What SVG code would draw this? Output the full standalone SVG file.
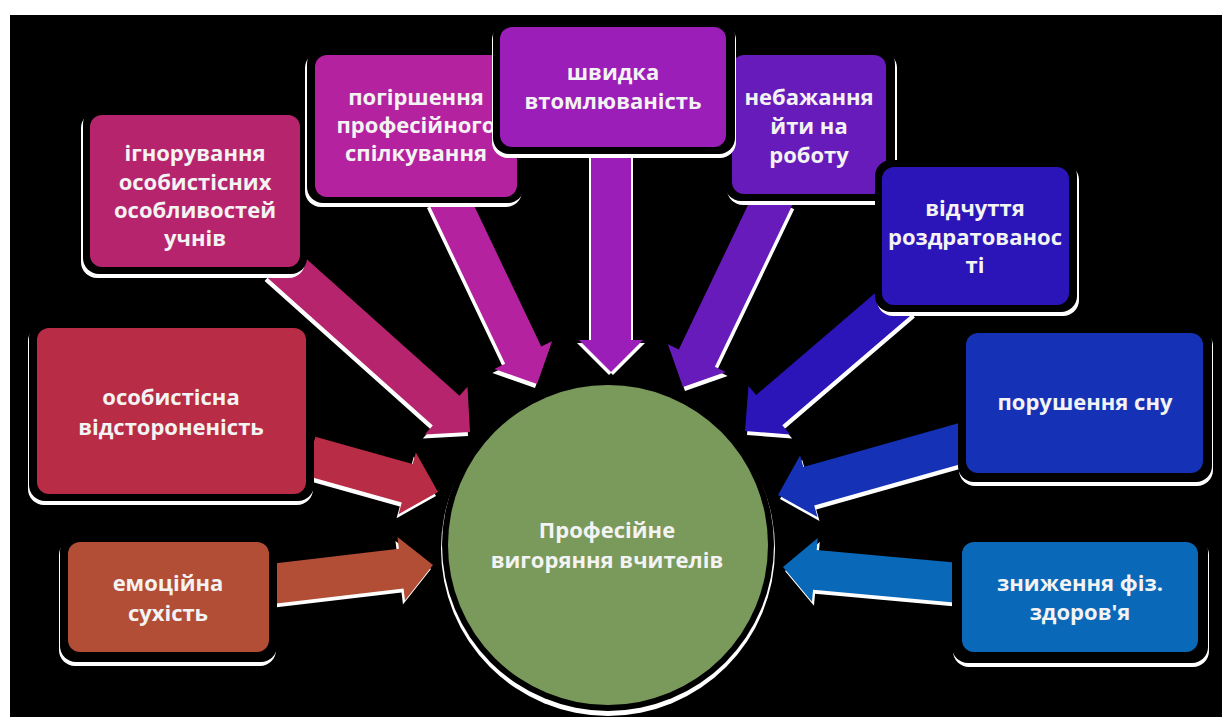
<svg xmlns="http://www.w3.org/2000/svg" xmlns:xlink="http://www.w3.org/1999/xlink" width="1225" height="723" viewBox="0 0 1225 723">
<style>
.t{font-family:"Open Sans","Noto Sans","DejaVu Sans",sans-serif;font-weight:700;font-size:22px;fill:#F3F3F3;text-anchor:middle}
.bo{fill:#000}
.sh{fill:#FFFFFF}
</style>
<defs>
<polygon id="p1" points="-255,-20 -32,-20 -32,-32 0,0 -32,32 -32,20 -255,20" transform="translate(470,432) rotate(41.8)"/>
<polygon id="p2" points="-209,-20 -32,-20 -32,-32 0,0 -32,32 -32,20 -209,20" transform="translate(537,384) rotate(64.5)"/>
<polygon id="p3" points="-227,-20 -32,-20 -32,-32 0,0 -32,32 -32,20 -227,20" transform="translate(611,372) rotate(90)"/>
<polygon id="p4" points="-211,-20 -32,-20 -32,-32 0,0 -32,32 -32,20 -211,20" transform="translate(683,387) rotate(115.6)"/>
<polygon id="p5" points="-204,-20 -32,-20 -32,-32 0,0 -32,32 -32,20 -204,20" transform="translate(745,431) rotate(139.4)"/>
<polygon id="p6" points="-194,-20 -32,-20 -32,-32 0,0 -32,32 -32,20 -194,20" transform="translate(778,495) rotate(164.2)"/>
<polygon id="p7" points="-176,-20 -32,-20 -32,-32 0,0 -32,32 -32,20 -176,20" transform="translate(783,567) rotate(185.2)"/>
<polygon id="p8" points="-133,-20 -32,-20 -32,-32 0,0 -32,32 -32,20 -133,20" transform="translate(438,492) rotate(15.7)"/>
<polygon id="p9" points="-162,-20 -32,-20 -32,-32 0,0 -32,32 -32,20 -162,20" transform="translate(433,565) rotate(-6.7)"/>
</defs>
<rect x="0" y="0" width="1225" height="723" fill="#FFFFFF"/>
<rect x="10" y="15" width="1212" height="702" fill="#000000"/>

<g id="connectors">
<use xlink:href="#p1" class="sh" transform="translate(-2,4)"/>
<use xlink:href="#p1" fill="#B7246E"/>
<use xlink:href="#p2" class="sh" transform="translate(-2,4)"/>
<use xlink:href="#p2" fill="#B522A0"/>
<use xlink:href="#p3" class="sh" transform="translate(-2,3)"/>
<use xlink:href="#p3" class="sh" transform="translate(2,3)"/>
<use xlink:href="#p3" fill="#9B1EB8"/>
<use xlink:href="#p4" class="sh" transform="translate(2,4)"/>
<use xlink:href="#p4" fill="#671BBA"/>
<use xlink:href="#p5" class="sh" transform="translate(2,4)"/>
<use xlink:href="#p5" fill="#2B14B8"/>
<use xlink:href="#p6" class="sh" transform="translate(2,4)"/>
<use xlink:href="#p6" fill="#1531B6"/>
<use xlink:href="#p7" class="sh" transform="translate(2,4)"/>
<use xlink:href="#p7" fill="#0A68B8"/>
<use xlink:href="#p8" class="sh" transform="translate(-2,4)"/>
<use xlink:href="#p8" fill="#B82C45"/>
<use xlink:href="#p9" class="sh" transform="translate(-2,4)"/>
<use xlink:href="#p9" fill="#B24D36"/>
</g>

<g id="center">
<circle cx="608" cy="549" r="167" fill="#FFFFFF"/>
<circle cx="608" cy="545" r="166" fill="#000000"/>
<circle cx="608" cy="545" r="160" fill="#7A9A5C"/>
<text class="t" x="607" y="538">Професійне</text>
<text class="t" x="607" y="568">вигоряння вчителів</text>
</g>

<g id="n1">
<rect class="sh" x="81" y="112" width="224" height="166" rx="16"/>
<rect class="bo" x="83" y="108" width="224" height="166" rx="16"/>
<rect x="90" y="115" width="210" height="152" rx="12" fill="#B7246E"/>
<text class="t" x="195" y="161">ігнорування</text>
<text class="t" x="195" y="190">особистісних</text>
<text class="t" x="195" y="218">особливостей</text>
<text class="t" x="195" y="246">учнів</text>
</g>

<g id="n2">
<rect class="sh" x="305" y="52" width="217" height="155" rx="16"/>
<rect class="bo" x="307" y="48" width="217" height="155" rx="16"/>
<rect x="315" y="55" width="202" height="142" rx="12" fill="#B522A0"/>
<text class="t" x="416" y="105">погіршення</text>
<text class="t" x="416" y="133">професійного</text>
<text class="t" x="416" y="161">спілкування</text>
</g>

<g id="n4">
<rect class="sh" x="727" y="52" width="170" height="153" rx="16"/>
<rect class="bo" x="725" y="48" width="170" height="153" rx="16"/>
<rect x="732" y="55" width="154" height="139" rx="12" fill="#671BBA"/>
<text class="t" x="809" y="105">небажання</text>
<text class="t" x="809" y="134">йти на</text>
<text class="t" x="809" y="163">роботу</text>
</g>

<g id="n3">
<rect class="sh" x="492" y="24" width="244" height="134" rx="16"/>
<rect class="bo" x="493" y="20" width="242" height="134" rx="16"/>
<rect x="500" y="27" width="226" height="120" rx="12" fill="#9B1EB8"/>
<text class="t" x="613" y="80">швидка</text>
<text class="t" x="613" y="109">втомлюваність</text>
</g>

<g id="n5">
<rect class="sh" x="877" y="164" width="202" height="152" rx="16"/>
<rect class="bo" x="875" y="160" width="202" height="152" rx="16"/>
<rect x="882" y="167" width="187" height="138" rx="12" fill="#2B14B8"/>
<text class="t" x="975" y="216">відчуття</text>
<text class="t" x="975" y="245">роздратованос</text>
<text class="t" x="975" y="273">ті</text>
</g>

<g id="n6">
<rect class="sh" x="959" y="330" width="254" height="156" rx="16"/>
<rect class="bo" x="958" y="326" width="254" height="156" rx="16"/>
<rect x="966" y="333" width="237" height="140" rx="12" fill="#1531B6"/>
<text class="t" x="1085" y="410">порушення сну</text>
</g>

<g id="n7">
<rect class="sh" x="953" y="539" width="256" height="128" rx="16"/>
<rect class="bo" x="952" y="535" width="256" height="128" rx="16"/>
<rect x="962" y="542" width="236" height="110" rx="12" fill="#0A68B8"/>
<text class="t" x="1080" y="591">зниження фіз.</text>
<text class="t" x="1080" y="620">здоров'я</text>
</g>

<g id="n8">
<rect class="sh" x="28" y="325" width="285" height="180" rx="16"/>
<rect class="bo" x="29" y="321" width="285" height="180" rx="16"/>
<rect x="37" y="328" width="269" height="166" rx="12" fill="#B82C45"/>
<text class="t" x="171" y="405">особистісна</text>
<text class="t" x="171" y="435">відстороненість</text>
</g>

<g id="n9">
<rect class="sh" x="59" y="539" width="217" height="127" rx="16"/>
<rect class="bo" x="60" y="535" width="217" height="127" rx="16"/>
<rect x="68" y="542" width="201" height="110" rx="12" fill="#B24D36"/>
<text class="t" x="168" y="591">емоційна</text>
<text class="t" x="168" y="621">сухість</text>
</g>
</svg>
